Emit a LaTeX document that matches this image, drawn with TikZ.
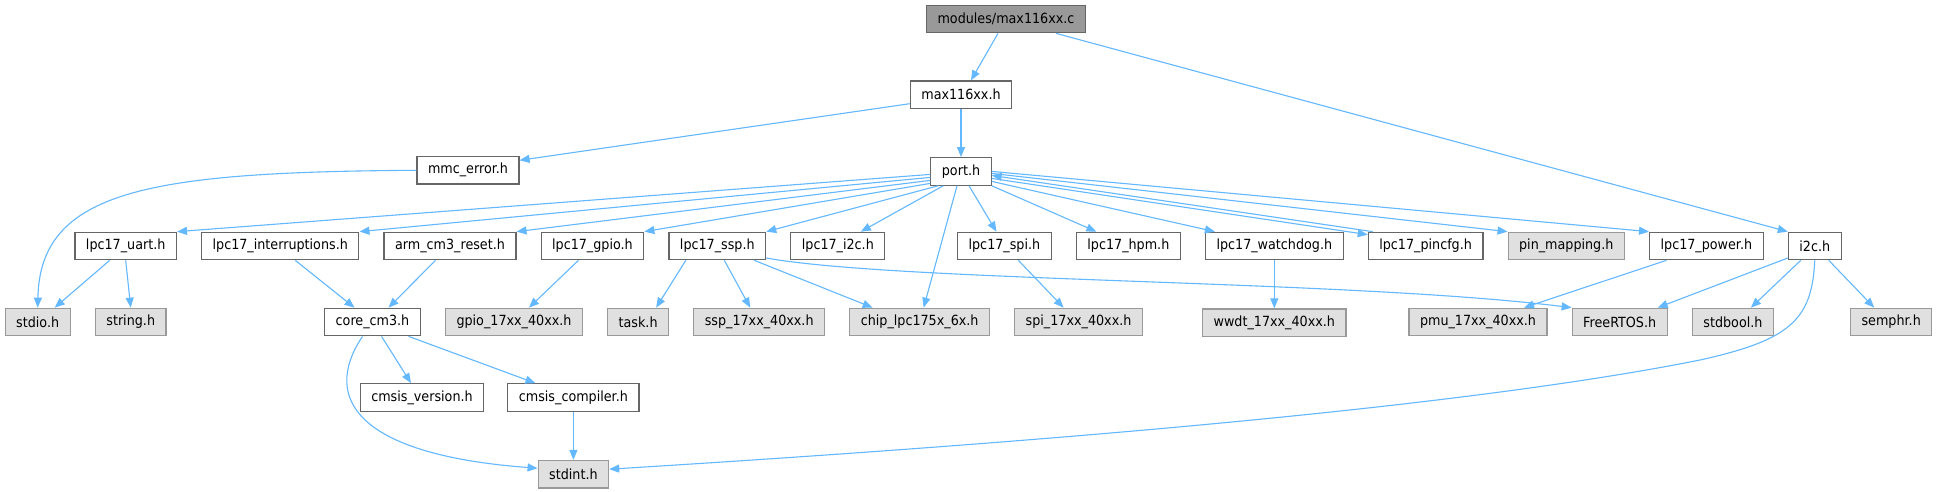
\documentclass[tikz,border=0pt]{standalone}
\usepackage{fontspec}
\setmainfont{DejaVu Sans}[FakeStretch=0.91]
\usepackage{xcolor}
\usepackage{tikz}
\usetikzlibrary{arrows.meta,positioning}
\definecolor{edgeblue}{HTML}{63B8FF}
\definecolor{boxline}{HTML}{666666}
\definecolor{sysline}{HTML}{999999}
\definecolor{sysfill}{HTML}{E0E0E0}
\definecolor{rootfill}{HTML}{999999}

\begin{document}
\begin{tikzpicture}[x=1pt, y=-1pt,
  file/.style={draw=boxline, fill=white, line width=1.2pt, minimum height=27.5pt, inner xsep=11pt, inner ysep=0pt, font=\fontsize{14}{16}\selectfont},
  sysfile/.style={file, draw=sysline, fill=sysfill},
  rootfile/.style={file, fill=rootfill},
  inc/.style={-{Triangle[length=10pt, width=8pt]}, draw=edgeblue, line width=1.1pt}
]
\useasboundingbox[fill=white] (0,0) rectangle (1938,492);

\node[rootfile] (root) at (1006,19) {modules/max116xx.c};
\node[file] (max) at (961,94.7) {max116xx.h};
\node[file, below=48pt of max] (port) {port.h};
\node[file] (mmc) at (468,170.3) {mmc\_error.h};

% row of port.h includes
\node[file] (uart) at (125.7,246) {lpc17\_uart.h};
\node[file, right=24pt of uart] (irq) {lpc17\_interruptions.h};
\node[file, right=24pt of irq] (armreset) {arm\_cm3\_reset.h};
\node[file, right=24pt of armreset] (gpio) {lpc17\_gpio.h};
\node[file, right=24pt of gpio] (ssp) {lpc17\_ssp.h};
\node[file, right=24pt of ssp] (i2cl) {lpc17\_i2c.h};
\node[file] (spi) at (1004.4,246) {lpc17\_spi.h};
\node[file, right=24pt of spi] (hpm) {lpc17\_hpm.h};
\node[file, right=24pt of hpm] (wdt) {lpc17\_watchdog.h};
\node[file, right=24pt of wdt] (pincfg) {lpc17\_pincfg.h};
\node[sysfile, right=24pt of pincfg] (pinmap) {pin\_mapping.h};
\node[file, right=24pt of pinmap] (power) {lpc17\_power.h};
\node[file, right=24pt of power] (i2c) {i2c.h};

% system headers
\node[sysfile] (stdio) at (37.7,322) {stdio.h};
\node[sysfile, right=24pt of stdio] (string) {string.h};
\node[file] (core) at (372.5,322) {core\_cm3.h};
\node[sysfile, right=24pt of core] (gpiox) {gpio\_17xx\_40xx.h};
\node[sysfile, right=24pt of gpiox] (task) {task.h};
\node[sysfile, right=24pt of task] (sspx) {ssp\_17xx\_40xx.h};
\node[sysfile, right=24pt of sspx] (chip) {chip\_lpc175x\_6x.h};
\node[sysfile, right=24pt of chip] (spix) {spi\_17xx\_40xx.h};
\node[sysfile, below=48pt of wdt] (wwdt) {wwdt\_17xx\_40xx.h};
\node[sysfile] (pmu) at (1478,322) {pmu\_17xx\_40xx.h};
\node[sysfile, right=24pt of pmu] (freertos) {FreeRTOS.h};
\node[sysfile, right=24pt of freertos] (stdbool) {stdbool.h};
\node[sysfile] (semphr) at (1891.2,322) {semphr.h};

\node[file] (cmsisv) at (422,397.5) {cmsis\_version.h};
\node[file, right=23pt of cmsisv] (cmsisc) {cmsis\_compiler.h};
\node[sysfile, below=48pt of cmsisc] (stdint) {stdint.h};

\draw[inc] ([xshift=-8pt]root.south) -- ([xshift=10pt]max.north);
\draw[inc] ([xshift=50pt]root.south) -- (i2c.north west);
\draw[inc] (max.south) -- (port.north);
\draw[inc] ([yshift=-9pt]max.west) -- ([yshift=10pt]mmc.east);
\draw[inc] (mmc.west) .. controls (150,172) and (40,190) .. (stdio.north);

\draw[inc] ([yshift=-3pt]port.west) -- (uart.north east);
\draw[inc] ([yshift=-6pt]port.west) -- (irq.north east);
\draw[inc] ([yshift=-9pt]port.west) -- (armreset.north east);
\draw[inc] ([yshift=-12pt]port.west) -- (gpio.north east);
\draw[inc] ([xshift=8pt]port.south west) -- (ssp.north east);
\draw[inc] ([xshift=13pt]port.south west) -- ([xshift=23pt]i2cl.north);
\draw[inc] ([xshift=-4pt]port.south) -- ([xshift=4pt]chip.north);
\draw[inc] ([xshift=8pt]port.south) -- ([xshift=-8pt]spi.north);
\draw[inc] (port.south east) -- ([xshift=-32pt]hpm.north);
\draw[inc] ([yshift=-10pt]port.east) -- ([xshift=10pt]wdt.north west);
\draw[inc] ([yshift=-7pt]port.east) -- ([yshift=-3pt]pincfg.north west);
\draw[inc] ([xshift=5pt]pincfg.north west) -- ([yshift=-4pt]port.east);
\draw[inc] ([yshift=-2pt]port.east) -- (pinmap.north west);
\draw[inc] (port.east) -- (power.north west);

\draw[inc] ([xshift=-16pt]uart.south) -- ([xshift=17pt]stdio.north);
\draw[inc] (uart.south) -- (string.north);
\draw[inc] ([xshift=15pt]irq.south) -- ([xshift=-18pt]core.north);
\draw[inc] ([xshift=-14.5pt]armreset.south) -- ([xshift=16pt]core.north);
\draw[inc] ([xshift=-14pt]gpio.south) -- ([xshift=15pt]gpiox.north);
\draw[inc] ([xshift=-31.5pt]ssp.south) -- ([xshift=18pt]task.north);
\draw[inc] ([xshift=7pt]ssp.south) -- ([xshift=-9pt]sspx.north);
\draw[inc] ([xshift=37pt]ssp.south) -- ([xshift=-47pt]chip.north);
\draw[inc] ([yshift=-12pt]ssp.east) .. controls (900,282) and (1350,280) .. (freertos.north west);
\draw[inc] ([xshift=14pt]spi.south) -- ([xshift=-15pt]spix.north);
\draw[inc] (wdt.south) -- (wwdt.north);
\draw[inc] ([xshift=-40pt]power.south) -- ([xshift=46pt]pmu.north);
\draw[inc] ([yshift=-12pt]i2c.west) -- ([xshift=38pt]freertos.north);
\draw[inc] ([xshift=-14pt]i2c.south) -- ([xshift=18pt]stdbool.north);
\draw[inc] ([xshift=14pt]i2c.south) -- ([xshift=-17pt]semphr.north);
\draw[inc] (i2c.south) .. controls (1812,320) and (1790,340) .. (1700,360) .. controls (1450,410) and (1000,445) .. ([yshift=5pt]stdint.east);

\draw[inc] ([xshift=9pt]core.south) -- ([xshift=-11pt]cmsisv.north);
\draw[inc] ([xshift=36pt]core.south) -- ([xshift=-38pt]cmsisc.north);
\draw[inc] ([xshift=-10pt]core.south) .. controls (320,400) and (360,455) .. ([yshift=6pt]stdint.west);
\draw[inc] (cmsisc.south) -- (stdint.north);
\end{tikzpicture}
\end{document}
